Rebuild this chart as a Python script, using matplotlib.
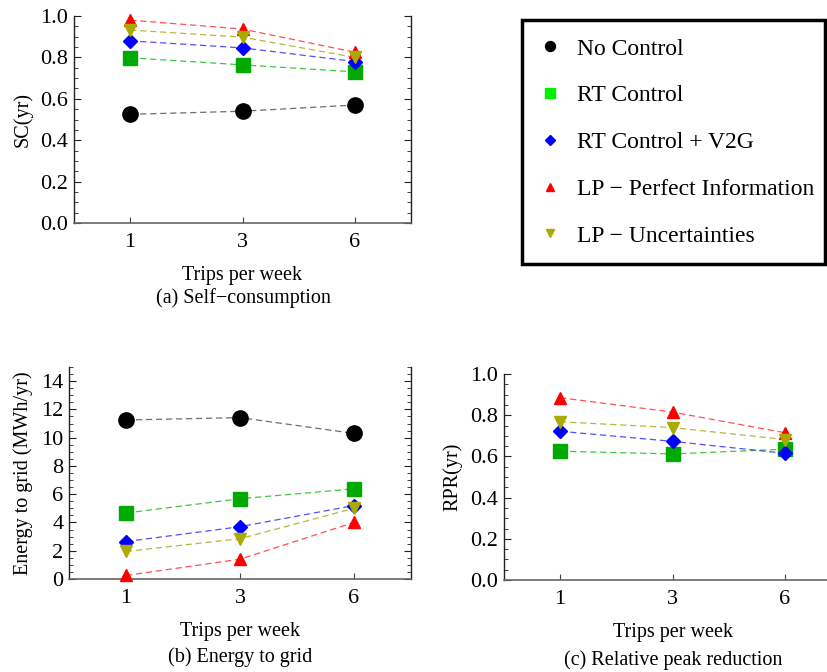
import matplotlib
matplotlib.use("Agg")
import matplotlib.pyplot as plt
from matplotlib.patches import Rectangle
from matplotlib.ticker import MultipleLocator, FormatStrFormatter

plt.rcParams['font.family'] = ['Liberation Serif', 'DejaVu Serif']

trips = ["1", "3", "6"]
series = ["No Control", "RT Control", "RT Control + V2G",
          "LP \u2212 Perfect Information", "LP \u2212 Uncertainties"]

sc_no = [0.525, 0.54, 0.57]
sc_rt = [0.798, 0.764, 0.73]
sc_v2g = [0.88, 0.846, 0.78]
sc_lpp = [0.98, 0.937, 0.825]
sc_lpu = [0.932, 0.898, 0.80]

eg_no = [11.25, 11.42, 10.3]
eg_rt = [4.67, 5.68, 6.38]
eg_v2g = [2.65, 3.7, 5.2]
eg_lpp = [0.25, 1.4, 4.0]
eg_lpu = [1.95, 2.85, 5.0]

rpr_rt = [0.625, 0.612, 0.635]
rpr_v2g = [0.722, 0.673, 0.615]
rpr_lpp = [0.885, 0.815, 0.715]
rpr_lpu = [0.768, 0.74, 0.682]

styles = {
    "No Control": dict(color="#000000", marker="o", ms=11, lc="#555555"),
    "RT Control": dict(color="#00AA00", marker="s", ms=10, lc="#22BB22"),
    "RT Control + V2G": dict(color="#0000FF", marker="D", ms=7.5, lc="#3333FF"),
    "LP \u2212 Perfect Information": dict(color="#FF0000", marker="^", ms=9, lc="#FF3333"),
    "LP \u2212 Uncertainties": dict(color="#AAAA00", marker="v", ms=9, lc="#AAAA22"),
}
legend_colors = ["#000000", "#00EE00", "#0000FF", "#FF0000", "#AAAA00"]

W, H = 827, 672
fig = plt.figure(figsize=(W / 100, H / 100), dpi=100)


def box(l, r, t, b):
    return [l / W, 1 - b / H, (r - l) / W, (b - t) / H]


def style_axes(ax, ylim, major, minor, right=True):
    ax.set_xlim(-0.5, 2.5)
    ax.set_ylim(*ylim)
    ax.set_xticks(range(len(trips)))
    ax.set_xticklabels(trips)
    ax.yaxis.set_major_locator(MultipleLocator(major))
    ax.yaxis.set_minor_locator(MultipleLocator(minor))
    ax.spines['top'].set_visible(False)
    ax.spines['right'].set_visible(right)
    for s in ['left', 'right']:
        ax.spines[s].set_color('#222222')
        ax.spines[s].set_linewidth(1.0)
    ax.spines['bottom'].set_color('#666666')
    ax.spines['bottom'].set_linewidth(1.2)
    ax.tick_params(axis='y', which='major', direction='in', length=5, width=0.8,
                   right=right, labelsize=16, color='#222222', pad=4)
    ax.tick_params(axis='y', which='minor', direction='in', length=3, width=0.6,
                   right=right, color='#222222')
    ax.tick_params(axis='x', which='major', direction='in', length=4, width=0.8,
                   labelsize=16, pad=7, color='#444444')
    ax.set_xlabel("Trips per week", fontsize=14.5, labelpad=10)


def plot_series(ax, name, vals):
    st = styles[name]
    x = list(range(len(vals)))
    ax.plot(x, vals, linestyle=(0, (5, 3)), color=st["lc"], lw=0.9, alpha=0.85, zorder=2)
    ax.plot(x, vals, linestyle='none', marker=st["marker"], ms=st["ms"],
            color=st["color"], mec=st["color"], zorder=3, clip_on=False)


# (a)
ax1 = fig.add_axes(box(74, 411, 16, 223))
for name, vals in zip(series, [sc_no, sc_rt, sc_v2g, sc_lpp, sc_lpu]):
    plot_series(ax1, name, vals)
style_axes(ax1, (0, 1.0), 0.2, 0.05)
ax1.yaxis.set_major_formatter(FormatStrFormatter('%.1f'))
ax1.set_ylabel("SC(yr)", fontsize=14.5, labelpad=6)
fig.text(243 / W, 1 - 298 / H, "(a) Self\u2212consumption", ha='center', va='center', fontsize=14.5)

# (b)
ax2 = fig.add_axes(box(69, 411, 367, 579))
for name, vals in zip(series, [eg_no, eg_rt, eg_v2g, eg_lpp, eg_lpu]):
    plot_series(ax2, name, vals)
style_axes(ax2, (0, 15), 2, 0.5)
ax2.set_ylabel("Energy to grid (MWh/yr)", fontsize=14.5, labelpad=6)
fig.text(240 / W, 1 - 657 / H, "(b) Energy to grid", ha='center', va='center', fontsize=14.5)

# (c)
ax3 = fig.add_axes(box(504, 841, 374, 580))
for name, vals in zip(series[1:], [rpr_rt, rpr_v2g, rpr_lpp, rpr_lpu]):
    plot_series(ax3, name, vals)
style_axes(ax3, (0, 1.0), 0.2, 0.05, right=False)
ax3.yaxis.set_major_formatter(FormatStrFormatter('%.1f'))
ax3.set_ylabel("RPR(yr)", fontsize=14.5, labelpad=6)
fig.text(673 / W, 1 - 660 / H, "(c) Relative peak reduction", ha='center', va='center', fontsize=14.5)

# Legend
handles = []
for name, lcol in zip(series, legend_colors):
    st = styles[name]
    h, = ax1.plot([], [], linestyle='none', marker=st["marker"],
                  ms=st["ms"] * 0.65, color=lcol)
    handles.append(h)
fig.add_artist(Rectangle((522 / W, 1 - 264 / H), (825 - 522) / W, (264 - 20) / H,
                         transform=fig.transFigure, fill=False, lw=2.5, ec='black'))
fig.legend(handles, series, loc='upper left', bbox_to_anchor=(536 / W, 1 - 38 / H),
           frameon=False, fontsize=17, handlelength=1.2, handletextpad=0.55,
           labelspacing=1.07, borderaxespad=0, borderpad=0)

fig.savefig("out.png", dpi=100)
